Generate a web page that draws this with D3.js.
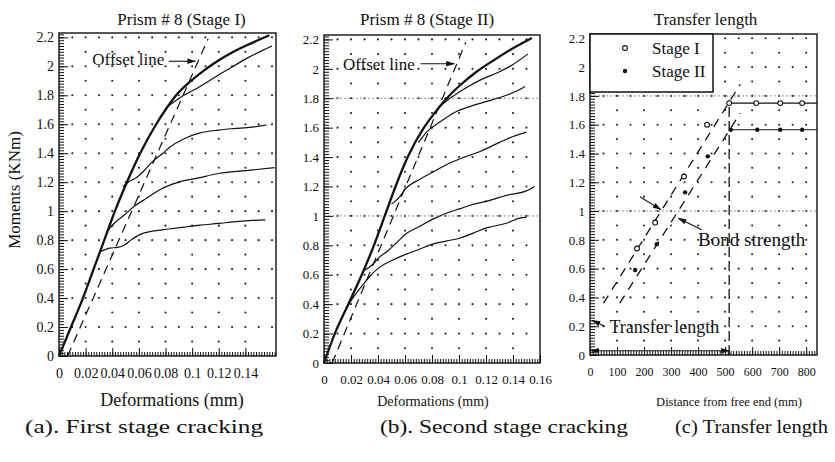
<!DOCTYPE html>
<html>
<head>
<meta charset="utf-8">
<script src="https://cdn.jsdelivr.net/npm/d3@7"></script>
<style>
  body { margin: 0; background: #fff; }
  svg { display: block; }
  text { font-family: "Liberation Serif", "Times New Roman", serif; fill: #111; }
</style>
</head>
<body>
<svg id="bg" width="835" height="462"></svg>
<script>
// ---- tick labels
var momentTicks = [0, 0.2, 0.4, 0.6, 0.8, 1, 1.2, 1.4, 1.6, 1.8, 2, 2.2];
var defTicksA = [0, 0.02, 0.04, 0.06, 0.08, 0.1, 0.12, 0.14];
var defTicksB = [0, 0.02, 0.04, 0.06, 0.08, 0.1, 0.12, 0.14, 0.16];
var distTicks = [0, 100, 200, 300, 400, 500, 600, 700, 800];

// ---- (a) first stage cracking, [deformation mm, moment KNm]
var stage1Main = [[0,0],[0.009,0.2],[0.018,0.4],[0.026,0.6],[0.034,0.8],[0.042,1.0],[0.051,1.2],[0.061,1.4],[0.073,1.6],[0.08,1.7],[0.088,1.8],[0.098,1.89],[0.108,1.965],[0.118,2.03],[0.13,2.095],[0.141,2.145],[0.152,2.19],[0.158,2.215]];
var stage1B = [[0.082,1.725],[0.092,1.79],[0.106,1.86],[0.118,1.93],[0.129,1.99],[0.142,2.06],[0.153,2.11],[0.16,2.14]];
var stage1C = [[0.048,1.17],[0.052,1.2],[0.058,1.23],[0.063,1.27],[0.07,1.34],[0.078,1.4],[0.083,1.44],[0.094,1.5],[0.106,1.54],[0.12,1.56],[0.131,1.57],[0.145,1.58],[0.156,1.595]];
var stage1D = [[0.036,0.86],[0.042,0.92],[0.05,0.98],[0.056,1.03],[0.066,1.09],[0.076,1.15],[0.09,1.2],[0.105,1.23],[0.12,1.26],[0.14,1.28],[0.162,1.3]];
var stage1E = [[0.031,0.72],[0.038,0.745],[0.044,0.75],[0.049,0.765],[0.054,0.8],[0.061,0.84],[0.07,0.862],[0.081,0.875],[0.094,0.89],[0.106,0.903],[0.12,0.915],[0.131,0.926],[0.143,0.935],[0.155,0.94]];
var stage1Offset = [[0.0064,0],[0.112,2.19]];

// ---- (b) second stage cracking
var stage2Main = [[0,0],[0.008,0.2],[0.018,0.4],[0.028,0.6],[0.037,0.8],[0.045,1.0],[0.053,1.2],[0.062,1.4],[0.074,1.6],[0.082,1.7],[0.091,1.8],[0.101,1.89],[0.113,1.98],[0.126,2.06],[0.14,2.14],[0.154,2.21]];
var stage2B = [[0.085,1.74],[0.095,1.81],[0.105,1.87],[0.116,1.925],[0.13,1.98],[0.14,2.03],[0.151,2.1]];
var stage2C = [[0.07,1.5],[0.076,1.57],[0.086,1.64],[0.096,1.7],[0.11,1.75],[0.121,1.78],[0.135,1.82],[0.145,1.86],[0.149,1.88]];
var stage2D = [[0.05,1.08],[0.056,1.13],[0.06,1.18],[0.071,1.25],[0.081,1.3],[0.091,1.35],[0.104,1.4],[0.116,1.44],[0.13,1.5],[0.14,1.54],[0.15,1.57]];
var stage2E = [[0.03,0.63],[0.036,0.67],[0.041,0.72],[0.047,0.76],[0.054,0.82],[0.061,0.88],[0.071,0.93],[0.081,0.98],[0.091,1.02],[0.101,1.05],[0.111,1.08],[0.121,1.1],[0.135,1.14],[0.15,1.17],[0.156,1.2]];
var stage2F = [[0.017,0.38],[0.022,0.45],[0.027,0.51],[0.034,0.59],[0.041,0.65],[0.051,0.7],[0.061,0.74],[0.071,0.775],[0.081,0.81],[0.091,0.83],[0.101,0.85],[0.111,0.885],[0.121,0.92],[0.135,0.95],[0.145,0.985],[0.15,0.99]];
var stage2Offset = [[0.006,0],[0.105,2.18]];

// ---- (c) transfer length, [distance mm, moment KNm]
var tlStageI = [[174,0.74],[241,0.92],[348,1.24],[433,1.6],[515,1.75],[615,1.75],[704,1.75],[785,1.75]];
var tlStageII = [[167,0.59],[247,0.77],[352,1.13],[436,1.38],[521,1.565],[619,1.565],[704,1.565],[785,1.565]];
var tlPlateauI = [[515,1.75],[840,1.75]];
var tlPlateauII = [[521,1.565],[840,1.565]];
var tlFitI = [[50,0.36],[556,1.88]];
var tlFitII = [[110,0.36],[556,1.68]];
var transferLength = 515;
var transferTop = 1.77;

var svg = d3.select('#bg');
var fmt = function(d) { return String(+d.toFixed(3)); };

var defs = svg.append('defs');
defs.append('marker').attr('id', 'arr')
  .attr('viewBox', '0 0 10 6').attr('refX', 9).attr('refY', 3)
  .attr('markerWidth', 9).attr('markerHeight', 6)
  .attr('markerUnits', 'userSpaceOnUse')
  .attr('orient', 'auto-start-reverse')
  .append('path').attr('d', 'M0,0 L10,3 L0,6 z').attr('fill', '#111');

function drawPanel(p) {
  var x = d3.scaleLinear().domain(p.xDomain).range([p.left, p.right]);
  var y = d3.scaleLinear().domain([0, 2.23]).range([p.bottom, p.top]);
  var g = svg.append('g');

  // dotted grid: every 0.1 KNm, denser on the 0.2 rows
  var dots = [];
  for (var k = 1; k * 0.1 < 2.23; k++) {
    var step = (k % 2 == 0) ? p.fineStep : p.coarseStep;
    for (var j = 1; j * step < p.xDomain[1] - step * 0.2; j++) dots.push([j * step, k * 0.1]);
  }
  g.selectAll('.dot').data(dots).join('circle')
    .attr('class', 'dot')
    .attr('cx', d => x(d[0]))
    .attr('cy', d => y(d[1]))
    .attr('r', 1.05)
    .attr('fill', '#222');

  (p.refLines || []).forEach(function(v) {
    g.append('line')
      .attr('x1', p.left).attr('x2', p.right)
      .attr('y1', y(v)).attr('y2', y(v))
      .attr('stroke', '#888').attr('stroke-width', 0.9)
      .attr('stroke-dasharray', '2,2');
  });

  // y axis, ticks pointing inward
  g.append('g').attr('transform', 'translate(' + p.left + ',0)')
    .call(d3.axisLeft(y).tickValues(d3.range(0, 112).map(i => i * 0.02)).tickSize(-5).tickFormat(''))
    .call(a => a.select('.domain').remove());
  g.append('g').attr('transform', 'translate(' + p.left + ',0)')
    .call(d3.axisLeft(y).tickValues(momentTicks).tickSize(-9).tickPadding(5).tickFormat(fmt))
    .call(a => a.select('.domain').remove())
    .attr('font-family', '"Liberation Serif", serif')
    .attr('font-size', p.yFont);

  // x axis
  g.append('g').attr('transform', 'translate(0,' + p.bottom + ')')
    .call(d3.axisBottom(x).tickValues(d3.range(0, p.minorCount).map(i => i * p.minorStep)).tickSize(-4).tickFormat(''))
    .call(a => a.select('.domain').remove());
  g.append('g').attr('transform', 'translate(0,' + p.bottom + ')')
    .call(d3.axisBottom(x).tickValues(p.xTicks).tickSize(-8).tickPadding(12).tickFormat(fmt))
    .call(a => a.select('.domain').remove())
    .attr('font-family', '"Liberation Serif", serif')
    .attr('font-size', p.xFont);

  g.selectAll('.tick line').attr('stroke', '#111').attr('stroke-width', 1);

  g.append('rect')
    .attr('x', p.left).attr('y', p.top)
    .attr('width', p.right - p.left).attr('height', p.bottom - p.top)
    .attr('fill', 'none').attr('stroke', '#111').attr('stroke-width', 1.4);

  g.append('text').text(p.title)
    .attr('x', (p.left + p.right) / 2 + p.titleShift).attr('y', 25)
    .attr('text-anchor', 'middle').attr('font-size', 17);
  g.append('text').text(p.xTitle)
    .attr('x', p.xTitleX).attr('y', 406)
    .attr('text-anchor', 'middle').attr('font-size', p.xTitleFont);
  g.append('text').text(p.caption)
    .attr('x', p.captionX).attr('y', 433)
    .attr('font-family', '"DejaVu Serif", serif')
    .attr('font-size', 18)
    .attr('textLength', p.captionLen).attr('lengthAdjust', 'spacingAndGlyphs');

  return { g: g, x: x, y: y };
}

function drawCurves(pan, curves, offset) {
  var line = d3.line().curve(d3.curveMonotoneX)
    .x(d => pan.x(d[0])).y(d => pan.y(d[1]));
  pan.g.selectAll('.curve').data(curves).join('path')
    .attr('class', 'curve')
    .attr('d', line)
    .attr('fill', 'none')
    .attr('stroke', '#111')
    .attr('stroke-width', (d, i) => i == 0 ? 2.3 : 1.2);
  pan.g.append('path')
    .attr('d', d3.line().x(d => pan.x(d[0])).y(d => pan.y(d[1]))(offset))
    .attr('fill', 'none').attr('stroke', '#111').attr('stroke-width', 1.2)
    .attr('stroke-dasharray', '9,6');
}

function offsetLabel(pan, lx, ly, ax0, ax1, ay) {
  pan.g.append('text').text('Offset line')
    .attr('x', pan.x(lx)).attr('y', pan.y(ly)).attr('dy', '0.35em')
    .attr('font-size', 17);
  pan.g.append('line')
    .attr('x1', pan.x(ax0)).attr('x2', pan.x(ax1))
    .attr('y1', pan.y(ay)).attr('y2', pan.y(ay))
    .attr('stroke', '#111').attr('stroke-width', 1.1)
    .attr('marker-end', 'url(#arr)');
}

// ---- panel (a)
var pa = drawPanel({
  left: 59, right: 276, top: 33, bottom: 356,
  xDomain: [0, 0.163], coarseStep: 0.02, fineStep: 0.01,
  minorStep: 0.002, minorCount: 82, xTicks: defTicksA,
  yFont: 14, xFont: 14,
  title: 'Prism # 8 (Stage I)', titleShift: 14,
  xTitle: 'Deformations (mm)', xTitleX: 172, xTitleFont: 18,
  caption: '(a). First stage cracking', captionX: 25, captionLen: 238
});
drawCurves(pa, [stage1Main, stage1B, stage1C, stage1D, stage1E], stage1Offset);
offsetLabel(pa, 0.025, 2.05, 0.0825, 0.1025, 2.035);

// ---- panel (b)
var pb = drawPanel({
  left: 324, right: 540, top: 35, bottom: 363,
  xDomain: [0, 0.16], coarseStep: 0.02, fineStep: 0.01,
  minorStep: 0.002, minorCount: 81, xTicks: defTicksB,
  yFont: 13, xFont: 13, refLines: [1, 1.8],
  title: 'Prism # 8 (Stage II)', titleShift: -5,
  xTitle: 'Deformations (mm)', xTitleX: 433, xTitleFont: 14,
  caption: '(b). Second stage cracking', captionX: 380, captionLen: 248
});
drawCurves(pb, [stage2Main, stage2B, stage2C, stage2D, stage2E, stage2F], stage2Offset);
offsetLabel(pb, 0.014, 2.03, 0.0715, 0.0965, 2.035);

// ---- panel (c)
var pc = drawPanel({
  left: 590, right: 817, top: 34, bottom: 355,
  xDomain: [0, 840], coarseStep: 100, fineStep: 50,
  minorStep: 10, minorCount: 84, xTicks: distTicks,
  yFont: 13, xFont: 12, refLines: [1, 1.8],
  title: 'Transfer length', titleShift: 2,
  xTitle: 'Distance from free end (mm)', xTitleX: 729, xTitleFont: 12.5,
  caption: '(c) Transfer length', captionX: 675, captionLen: 153
});

var straight = d3.line().x(d => pc.x(d[0])).y(d => pc.y(d[1]));
[tlFitI, tlFitII].forEach(function(f) {
  pc.g.append('path').attr('d', straight(f))
    .attr('fill', 'none').attr('stroke', '#111').attr('stroke-width', 1.3)
    .attr('stroke-dasharray', '9,7');
});
[tlPlateauI, tlPlateauII].forEach(function(f) {
  pc.g.append('path').attr('d', straight(f))
    .attr('fill', 'none').attr('stroke', '#111').attr('stroke-width', 1.1);
});
pc.g.append('line')
  .attr('x1', pc.x(transferLength)).attr('x2', pc.x(transferLength))
  .attr('y1', pc.y(0)).attr('y2', pc.y(transferTop))
  .attr('stroke', '#111').attr('stroke-width', 1.3)
  .attr('stroke-dasharray', '10,4');

pc.g.selectAll('.s1').data(tlStageI).join('circle')
  .attr('class', 's1')
  .attr('cx', d => pc.x(d[0])).attr('cy', d => pc.y(d[1])).attr('r', 2.4)
  .attr('fill', '#fff').attr('stroke', '#111').attr('stroke-width', 1.1);
pc.g.selectAll('.s2').data(tlStageII).join('circle')
  .attr('class', 's2')
  .attr('cx', d => pc.x(d[0])).attr('cy', d => pc.y(d[1])).attr('r', 2.2)
  .attr('fill', '#111');

// transfer length arrow
pc.g.append('line')
  .attr('x1', pc.x(0) + 1).attr('x2', pc.x(transferLength))
  .attr('y1', pc.y(0.03)).attr('y2', pc.y(0.03))
  .attr('stroke', '#111').attr('stroke-width', 1.1)
  .attr('marker-start', 'url(#arr)').attr('marker-end', 'url(#arr)');
pc.g.append('text').text('Transfer length')
  .attr('x', pc.x(72)).attr('y', pc.y(0.15))
  .attr('font-size', 18);
pc.g.append('line')
  .attr('x1', pc.x(55)).attr('x2', pc.x(8))
  .attr('y1', pc.y(0.2)).attr('y2', pc.y(0.24))
  .attr('stroke', '#111').attr('stroke-width', 1.1)
  .attr('marker-end', 'url(#arr)');

// bond strength
pc.g.append('text').text('Bond strength')
  .attr('x', pc.x(400)).attr('y', pc.y(0.76))
  .attr('font-size', 19);
pc.g.append('line')
  .attr('x1', pc.x(185)).attr('x2', pc.x(262))
  .attr('y1', pc.y(1.1)).attr('y2', pc.y(1.01))
  .attr('stroke', '#111').attr('stroke-width', 1.1)
  .attr('marker-end', 'url(#arr)');
pc.g.append('line')
  .attr('x1', pc.x(413)).attr('x2', pc.x(327))
  .attr('y1', pc.y(0.87)).attr('y2', pc.y(0.95))
  .attr('stroke', '#111').attr('stroke-width', 1.1)
  .attr('marker-end', 'url(#arr)');

// legend
var leg = pc.g.append('g').attr('transform', 'translate(' + pc.x(0) + ',' + pc.y(2.23) + ')');
leg.append('rect').attr('x', 0).attr('y', 0).attr('width', 123).attr('height', 58)
  .attr('fill', '#fff').attr('stroke', '#111').attr('stroke-width', 1.5);
leg.append('circle').attr('cx', 35).attr('cy', 14).attr('r', 2.4)
  .attr('fill', '#fff').attr('stroke', '#111').attr('stroke-width', 1.1);
leg.append('circle').attr('cx', 35).attr('cy', 37).attr('r', 2.2).attr('fill', '#111');
leg.append('text').text('Stage I').attr('x', 62).attr('y', 14).attr('dy', '0.35em').attr('font-size', 17);
leg.append('text').text('Stage II').attr('x', 62).attr('y', 37).attr('dy', '0.35em').attr('font-size', 17);

// shared y title
svg.append('text').text('Moments (KNm)')
  .attr('transform', 'translate(20,190) rotate(-90)')
  .attr('text-anchor', 'middle')
  .attr('font-size', 17);
</script>
</body>
</html>
